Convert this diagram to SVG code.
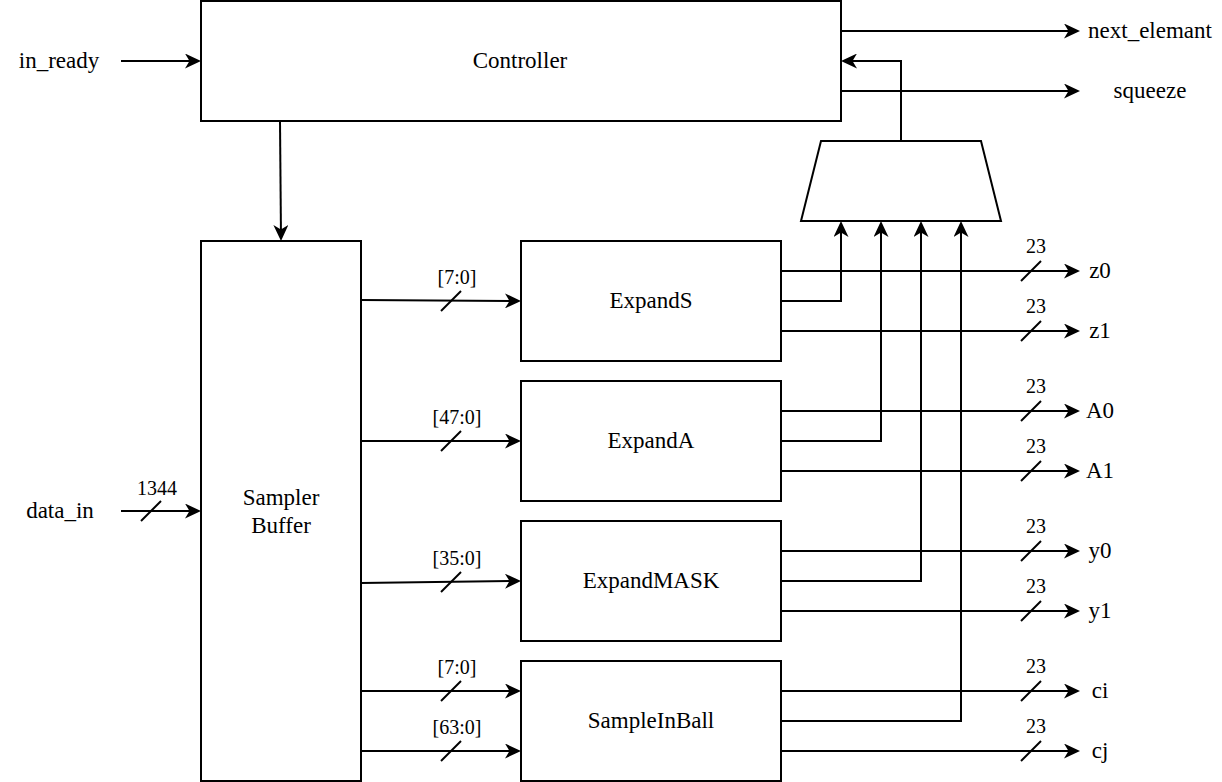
<svg xmlns="http://www.w3.org/2000/svg" width="1222" height="782" viewBox="0 0 1222 782">
<style>
.box{fill:#fff;stroke:#000;stroke-width:2}
.ln{fill:none;stroke:#000;stroke-width:2}
.arr{marker-end:url(#ah)}
.t{font-family:"Liberation Serif","Times New Roman",serif;font-size:23px;fill:#000;text-anchor:middle}
.s{font-family:"Liberation Serif","Times New Roman",serif;font-size:20px;fill:#000;text-anchor:middle}
</style>
<defs>
<marker id="ah" viewBox="0 0 16 15" markerWidth="16" markerHeight="15" markerUnits="userSpaceOnUse" refX="14" refY="7.5" orient="auto">
<path d="M0,0 L16,7.5 L0,15 L4.5,7.5 Z" fill="#000"/>
</marker>
</defs>
<rect width="1222" height="782" fill="#fff"/>

<g id="connectors">
<line class="ln arr" x1="121" y1="61" x2="199" y2="61"/>
<line class="ln arr" x1="121" y1="511" x2="199" y2="511"/>
<line class="ln arr" x1="280" y1="121" x2="281" y2="239"/>
<line class="ln arr" x1="841" y1="31" x2="1078" y2="31"/>
<line class="ln arr" x1="841" y1="91" x2="1078" y2="91"/>
<polyline class="ln arr" points="901,141 901,61 843,61"/>
<line class="ln arr" x1="361" y1="300" x2="519" y2="301"/>
<line class="ln arr" x1="361" y1="441" x2="519" y2="441"/>
<line class="ln arr" x1="361" y1="583" x2="519" y2="581"/>
<line class="ln arr" x1="361" y1="691" x2="519" y2="691"/>
<line class="ln arr" x1="361" y1="751" x2="519" y2="751"/>
<polyline class="ln arr" points="781,301 841,301 841,223"/>
<polyline class="ln arr" points="781,441 881,441 881,223"/>
<polyline class="ln arr" points="781,581 921,581 921,223"/>
<polyline class="ln arr" points="781,721 961,721 961,223"/>
<line class="ln arr" x1="781" y1="271" x2="1078" y2="271"/>
<line class="ln arr" x1="781" y1="331" x2="1078" y2="331"/>
<line class="ln arr" x1="781" y1="411" x2="1078" y2="411"/>
<line class="ln arr" x1="781" y1="471" x2="1078" y2="471"/>
<line class="ln arr" x1="781" y1="551" x2="1078" y2="551"/>
<line class="ln arr" x1="781" y1="611" x2="1078" y2="611"/>
<line class="ln arr" x1="781" y1="691" x2="1078" y2="691"/>
<line class="ln arr" x1="781" y1="751" x2="1078" y2="751"/>
<g id="ticks" class="ln">
<line x1="141" y1="521" x2="161" y2="501"/>
<line x1="441" y1="311" x2="461" y2="291"/>
<line x1="441" y1="451" x2="461" y2="431"/>
<line x1="441" y1="592" x2="461" y2="572"/>
<line x1="441" y1="701" x2="461" y2="681"/>
<line x1="441" y1="761" x2="461" y2="741"/>
<line x1="1021" y1="281" x2="1041" y2="261"/>
<line x1="1021" y1="341" x2="1041" y2="321"/>
<line x1="1021" y1="421" x2="1041" y2="401"/>
<line x1="1021" y1="481" x2="1041" y2="461"/>
<line x1="1021" y1="561" x2="1041" y2="541"/>
<line x1="1021" y1="621" x2="1041" y2="601"/>
<line x1="1021" y1="701" x2="1041" y2="681"/>
<line x1="1021" y1="761" x2="1041" y2="741"/>
</g>
<g id="bus-labels">
<text class="s" x="157" y="495">1344</text>
<text class="s" x="457" y="284">[7:0]</text>
<text class="s" x="457" y="424">[47:0]</text>
<text class="s" x="457" y="565">[35:0]</text>
<text class="s" x="457" y="674">[7:0]</text>
<text class="s" x="457" y="734">[63:0]</text>
<text class="s" x="1036" y="253">23</text>
<text class="s" x="1036" y="313">23</text>
<text class="s" x="1036" y="393">23</text>
<text class="s" x="1036" y="453">23</text>
<text class="s" x="1036" y="533">23</text>
<text class="s" x="1036" y="593">23</text>
<text class="s" x="1036" y="673">23</text>
<text class="s" x="1036" y="733">23</text>
</g>
</g>

<g id="controller"><rect class="box" x="201" y="1" width="640" height="120"/><text class="t" x="520" y="68">Controller</text></g>
<g id="sampler"><rect class="box" x="201" y="241" width="160" height="540"/><text class="t" x="281" y="505">Sampler</text><text class="t" x="281" y="533">Buffer</text></g>
<g id="expands"><rect class="box" x="521" y="241" width="260" height="120"/><text class="t" x="651" y="308">ExpandS</text></g>
<g id="expanda"><rect class="box" x="521" y="381" width="260" height="120"/><text class="t" x="651" y="448">ExpandA</text></g>
<g id="expandmask"><rect class="box" x="521" y="521" width="260" height="120"/><text class="t" x="651" y="588">ExpandMASK</text></g>
<g id="sampleinball"><rect class="box" x="521" y="661" width="260" height="120"/><text class="t" x="651" y="728">SampleInBall</text></g>
<g id="mux"><polygon class="box" points="821,141 981,141 1001,221 801,221"/></g>

<g id="in_ready"><text class="t" x="59" y="68">in_ready</text></g>
<g id="data_in"><text class="t" x="60" y="518">data_in</text></g>
<g id="next_elemant"><text class="t" x="1150" y="38">next_elemant</text></g>
<g id="squeeze"><text class="t" x="1150" y="98">squeeze</text></g>
<g id="z0"><text class="t" x="1100" y="278">z0</text></g>
<g id="z1"><text class="t" x="1100" y="338">z1</text></g>
<g id="A0"><text class="t" x="1100" y="418">A0</text></g>
<g id="A1"><text class="t" x="1100" y="478">A1</text></g>
<g id="y0"><text class="t" x="1100" y="558">y0</text></g>
<g id="y1"><text class="t" x="1100" y="618">y1</text></g>
<g id="ci"><text class="t" x="1100" y="698">ci</text></g>
<g id="cj"><text class="t" x="1100" y="758">cj</text></g>
</svg>
